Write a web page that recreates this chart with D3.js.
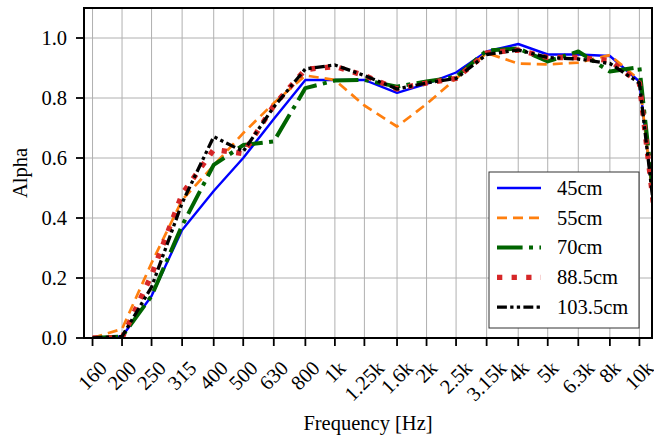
<!DOCTYPE html>
<html>
<head>
<meta charset="utf-8">
<script src="https://cdn.jsdelivr.net/npm/d3@7"></script>
<style>
  body { margin: 0; background: #fff; }
  svg { display: block; }
  text { font-family: "Liberation Serif", "Times New Roman", serif; fill: #000; }
</style>
</head>
<body>
<script>
// 1/3-octave band centres and labels
var freqs = [160, 200, 250, 315, 400, 500, 630, 800, 1000, 1250, 1600, 2000, 2500, 3150, 4000, 5000, 6300, 8000, 10000, 12500];
var tickLabels = ["160", "200", "250", "315", "400", "500", "630", "800", "1k", "1.25k", "1.6k", "2k", "2.5k", "3.15k", "4k", "5k", "6.3k", "8k", "10k"];
var yTicks = [0, 0.2, 0.4, 0.6, 0.8, 1.0];

// absorption coefficient per height
var alpha45 = [0.0, 0.005, 0.14, 0.36, 0.49, 0.60, 0.73, 0.86, 0.86, 0.86, 0.817, 0.847, 0.885, 0.955, 0.98, 0.945, 0.945, 0.94, 0.855, 0.0];
var alpha55 = [0.0, 0.03, 0.25, 0.46, 0.575, 0.683, 0.783, 0.875, 0.86, 0.775, 0.705, 0.78, 0.865, 0.95, 0.915, 0.912, 0.918, 0.943, 0.86, 0.0];
var alpha70 = [0.0, 0.005, 0.14, 0.375, 0.577, 0.643, 0.655, 0.833, 0.858, 0.86, 0.838, 0.855, 0.87, 0.958, 0.965, 0.922, 0.955, 0.888, 0.903, 0.0];
var alpha885 = [0.0, 0.0, 0.21, 0.48, 0.628, 0.615, 0.775, 0.895, 0.905, 0.875, 0.83, 0.85, 0.865, 0.95, 0.96, 0.935, 0.935, 0.925, 0.85, 0.0];
var alpha1035 = [0.0, 0.005, 0.17, 0.45, 0.671, 0.622, 0.77, 0.897, 0.91, 0.875, 0.83, 0.85, 0.865, 0.945, 0.96, 0.935, 0.93, 0.915, 0.85, 0.0];

var seriesNames = ["45cm", "55cm", "70cm", "88.5cm", "103.5cm"];
var seriesValues = [alpha45, alpha55, alpha70, alpha885, alpha1035];

var styles = [
    {color: "#0000ff", width: 2.4, dash: null},
    {color: "#ff7f0e", width: 2.7, dash: "10,6"},
    {color: "#006400", width: 4, dash: "25.6,6.4,4,6.4"},
    {color: "#d62728", width: 5.3, dash: "5.3,9.3"},
    {color: "#000000", width: 3.3, dash: "9.9,3.3,3.3,3.3,3.3,3.3"}
];

var W = 654, H = 437;
var plot = {left: 84, right: 652, top: 8, bottom: 338};
var fontSize = 20.5;

var x = d3.scaleLog().domain([150, 11000]).range([plot.left, plot.right]);
var y = d3.scaleLinear().domain([0, 1.1]).range([plot.bottom, plot.top]);

var svg = d3.select("body").append("svg")
    .attr("width", W)
    .attr("height", H);

svg.append("defs").append("clipPath").attr("id", "clip")
    .append("rect")
    .attr("x", plot.left).attr("y", plot.top)
    .attr("width", plot.right - plot.left)
    .attr("height", plot.bottom - plot.top);

// grid
var grid = svg.append("g").attr("stroke", "#b0b0b0").attr("stroke-width", 1);
grid.selectAll(".vg").data(freqs.slice(0, tickLabels.length)).enter().append("line")
    .attr("x1", function (d) { return x(d); })
    .attr("x2", function (d) { return x(d); })
    .attr("y1", plot.top).attr("y2", plot.bottom);
grid.selectAll(".hg").data(yTicks).enter().append("line")
    .attr("x1", plot.left).attr("x2", plot.right)
    .attr("y1", function (d) { return y(d); })
    .attr("y2", function (d) { return y(d); });

// lines
var line = d3.line()
    .x(function (d) { return x(d[0]); })
    .y(function (d) { return y(d[1]); });

var lines = svg.append("g").attr("clip-path", "url(#clip)");
seriesValues.forEach(function (vals, i) {
    var pts = freqs.map(function (f, j) { return [f, vals[j]]; });
    lines.append("path")
        .attr("d", line(pts))
        .attr("fill", "none")
        .attr("stroke", styles[i].color)
        .attr("stroke-width", styles[i].width)
        .attr("stroke-dasharray", styles[i].dash)
        .attr("stroke-linejoin", "round");
});

// frame
svg.append("rect")
    .attr("x", plot.left).attr("y", plot.top)
    .attr("width", plot.right - plot.left)
    .attr("height", plot.bottom - plot.top)
    .attr("fill", "none")
    .attr("stroke", "#000")
    .attr("stroke-width", 2);

// x ticks
var xt = svg.append("g");
xt.selectAll("line").data(freqs.slice(0, tickLabels.length)).enter().append("line")
    .attr("x1", function (d) { return x(d); })
    .attr("x2", function (d) { return x(d); })
    .attr("y1", plot.bottom).attr("y2", plot.bottom + 8)
    .attr("stroke", "#000").attr("stroke-width", 1.8);

tickLabels.forEach(function (lab, i) {
    var t = xt.append("text")
        .attr("font-size", fontSize)
        .attr("text-anchor", "middle")
        .attr("dy", "0.33em")
        .text(lab);
    var w = t.node().getComputedTextLength();
    var hh = (w + 0.66 * fontSize) * Math.SQRT1_2;
    t.attr("transform", "translate(" + x(freqs[i]) + "," + (360 + hh / 2) + ") rotate(-45)");
});

// y ticks
var yt = svg.append("g");
yt.selectAll("line").data(yTicks).enter().append("line")
    .attr("x1", plot.left - 8).attr("x2", plot.left)
    .attr("y1", function (d) { return y(d); })
    .attr("y2", function (d) { return y(d); })
    .attr("stroke", "#000").attr("stroke-width", 1.8);
yt.selectAll("text").data(yTicks).enter().append("text")
    .attr("x", 67)
    .attr("y", function (d) { return y(d); })
    .attr("dy", "0.33em")
    .attr("text-anchor", "end")
    .attr("font-size", fontSize)
    .text(function (d) { return d3.format(".1f")(d); });

// axis labels
svg.append("text")
    .attr("x", (plot.left + plot.right) / 2)
    .attr("y", 430)
    .attr("text-anchor", "middle")
    .attr("font-size", fontSize)
    .text("Frequency [Hz]");

svg.append("text")
    .attr("transform", "translate(27," + (plot.top + plot.bottom) / 2 + ") rotate(-90)")
    .attr("text-anchor", "middle")
    .attr("font-size", fontSize)
    .text("Alpha");

// legend
var leg = svg.append("g");
leg.append("rect")
    .attr("x", 489).attr("y", 172)
    .attr("width", 150).attr("height", 156)
    .attr("fill", "#fff")
    .attr("stroke", "#333")
    .attr("stroke-width", 1);

seriesNames.forEach(function (name, i) {
    var ry = 188 + i * 29.8;
    leg.append("line")
        .attr("x1", 497).attr("x2", 541)
        .attr("y1", ry).attr("y2", ry)
        .attr("stroke", styles[i].color)
        .attr("stroke-width", styles[i].width)
        .attr("stroke-dasharray", styles[i].dash);
    leg.append("text")
        .attr("x", 557).attr("y", ry)
        .attr("dy", "0.33em")
        .attr("font-size", fontSize)
        .text(name);
});
</script>
</body>
</html>
